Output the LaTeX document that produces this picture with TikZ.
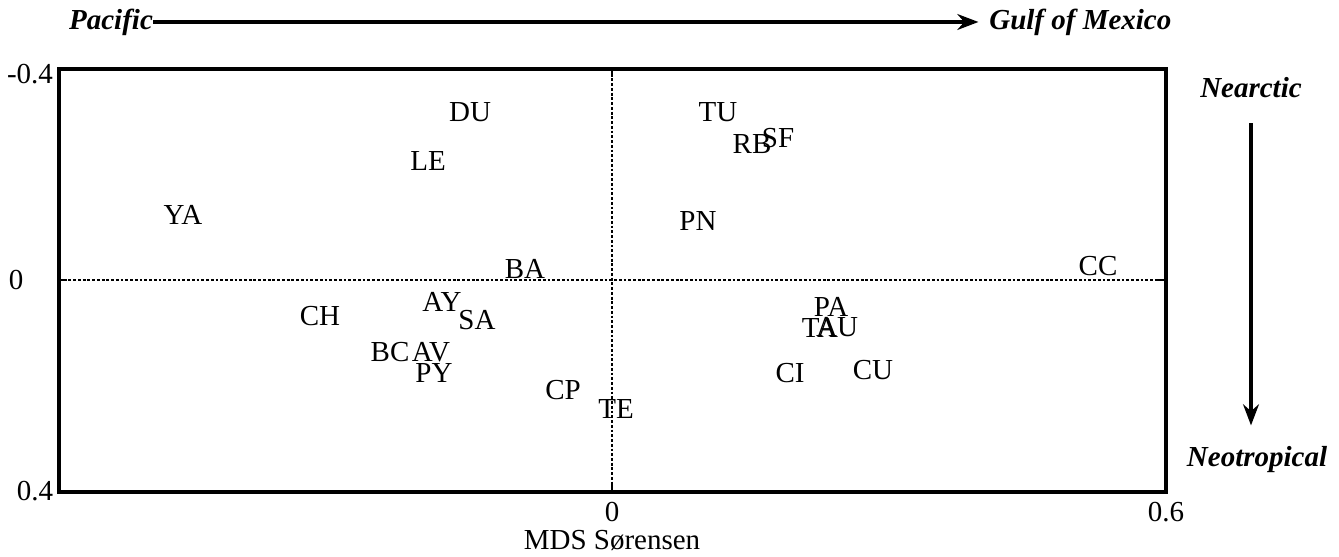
\documentclass[tikz,border=0pt]{standalone}
\usepackage{fontspec}
\setmainfont{Liberation Serif}
\usetikzlibrary{arrows.meta,positioning}

\begin{document}
\begin{tikzpicture}[x=0.02cm,y=-0.02cm,
    lab/.style={font=\fontsize{16.5}{19}\selectfont,inner sep=0pt},
    reg/.style={font=\fontsize{16.5}{19}\selectfont\bfseries\itshape,inner sep=0pt},
    zeroline/.style={dash pattern=on 1.6pt off 1.1pt,line width=0.6pt},
    gradient/.style={line width=2pt,-{Stealth[length=12pt,width=9pt]}}]
    \useasboundingbox (0,0) rectangle (1339,557);

    % Frame corners and zero points
    \coordinate (tl) at (59,69);
    \coordinate (br) at (1166,492);
    \coordinate (top0) at (612,69);
    \coordinate (bot0) at (612,492);
    \coordinate (left0) at (59,280);
    \coordinate (right0) at (1166,280);

    % Zero lines with ticks
    \draw[zeroline] (top0) -- (bot0);
    \draw[zeroline] (left0) -- (right0);
    \draw[line width=1pt] (top0) -- ++(0,8) (bot0) -- ++(0,-8)
        (left0) -- ++(8,0) (right0) -- ++(-8,0);
    \draw[line width=1.8pt] (tl) rectangle (br);

    % Axis values
    \node[lab] (ymin) at (30,74) {-0.4};
    \node[lab] (yzero) at (16,280) {0};
    \node[lab] (ymax) at (35,491) {0.4};
    \node[lab] (xzero) at (612,512) {0};
    \node[lab] (xmax) at (1166,512) {0.6};
    \node[lab] (xtitle) at (612,540) {MDS Sørensen};

    % Sites
    \foreach \s/\px/\py in {YA/183/215, DU/470/112, LE/428/161, BA/525/269,
        CH/320/316, AY/442/302, SA/477/320, BC/390/352, AV/431/352,
        PY/434/373, CP/563/390, TE/616/409, TU/718/112, RB/752/144,
        SF/778/138, PN/698/221, CC/1098/266, PA/831/307, TA/820/328,
        AU/837/327, CI/790/373, CU/873/370}
        \node[lab] (\s) at (\px,\py) {\s};

    % Gradients
    \node[reg] (pac) at (111,22) {Pacific};
    \node[reg,anchor=west] (gulf) at (989,22) {Gulf of Mexico};
    \draw[gradient,shorten >=6pt] (pac.east) -- (gulf.west);

    \node[reg] (nea) at (1251,88) {Nearctic};
    \node[reg] (neo) at (1257,460) {Neotropical};
    \draw[gradient,shorten <=14pt,shorten >=12pt] (nea.south) -- (nea.south |- neo.north);
\end{tikzpicture}
\end{document}
